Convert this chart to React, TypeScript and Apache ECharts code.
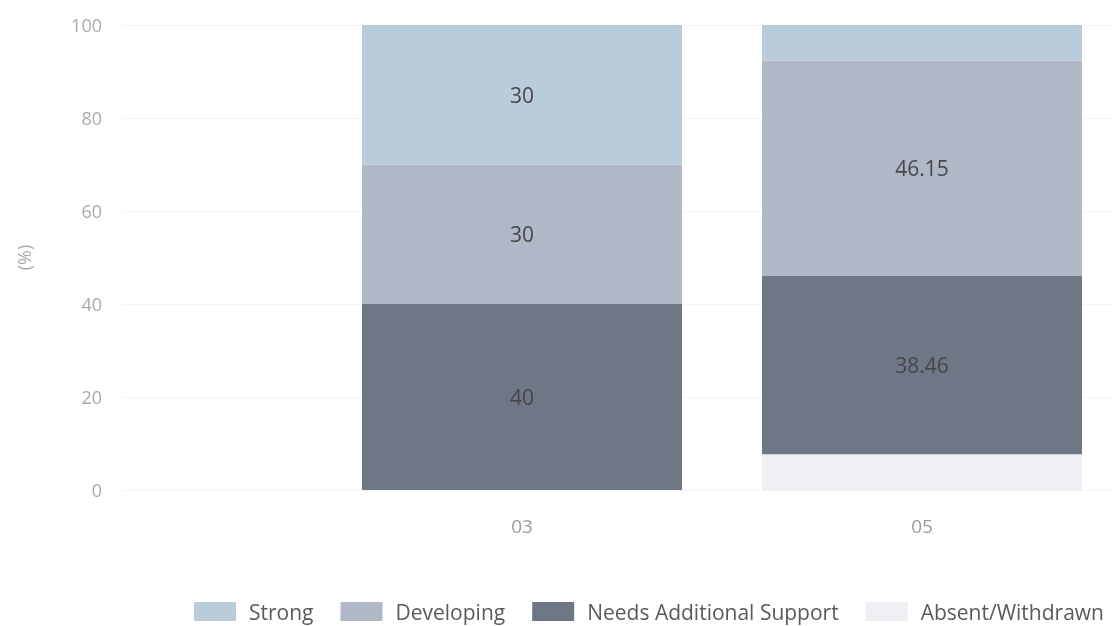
import React, { useEffect, useRef } from "react";
import * as echarts from "echarts";

const categories = ["03", "05"];
const seriesNames = ["Strong", "Developing", "Needs Additional Support", "Absent/Withdrawn"];
const strong = [30, 7.69];
const developing = [30, 46.15];
const needsSupport = [40, 38.46];
const absent = [0, 7.69];
const yTicks = [0, 20, 40, 60, 80, 100];

const colors: Record<string, string> = {
  Strong: "#b8ccda",
  Developing: "#b0b8c8",
  "Needs Additional Support": "#6f7686",
  "Absent/Withdrawn": "#eeeff3",
};

export default function App() {
  const ref = useRef<HTMLDivElement>(null);
  useEffect(() => {
    if (!ref.current) return;
    const chart = echarts.init(ref.current, null, { renderer: "svg" });
    const font = "'Open Sans', 'Noto Sans', sans-serif";
    const yMin = yTicks[0];
    const yMax = yTicks[yTicks.length - 1];
    const yInt = yTicks[1] - yTicks[0];
    const mk = (name: string, vals: number[]) => ({
      name,
      type: "bar",
      stack: "total",
      xAxisIndex: 1,
      yAxisIndex: 1,
      barWidth: "80%",
      itemStyle: { color: colors[name] },
      data: vals,
      label: {
        show: true,
        position: "inside",
        color: "#474747",
        fontSize: 21,
        fontFamily: font,
        formatter: (p: any) => (p.value > 10 ? String(p.value) : ""),
      },
    });
    chart.setOption({
      animation: false,
      grid: [
        { left: 122, top: 25, width: 1000, height: 465 },
        { left: 322, top: 25, width: 800, height: 465 },
      ],
      legend: {
        data: seriesNames,
        left: 194,
        top: 601,
        width: 930,
        padding: 0,
        itemWidth: 42,
        itemHeight: 19,
        itemGap: 27,
        icon: "rect",
        textStyle: { color: "#5a5a5a", fontSize: 21, fontFamily: font, padding: [0, 0, 0, 8] },
      },
      xAxis: [
        {
          gridIndex: 0,
          type: "category",
          data: [""],
          show: false,
        },
        {
          gridIndex: 1,
          type: "category",
          data: categories,
          axisLine: { show: false },
          axisTick: { show: false },
          splitLine: { show: false },
          axisLabel: { color: "#9a9a9a", fontSize: 19, fontFamily: font, margin: 26 },
        },
      ],
      yAxis: [
        {
          gridIndex: 0,
          type: "value",
          min: yMin,
          max: yMax,
          interval: yInt,
          name: "(%)",
          nameLocation: "middle",
          nameGap: 89,
          nameTextStyle: { color: "#aaaaaa", fontSize: 18, fontFamily: font },
          axisLine: { show: false },
          axisTick: { show: false },
          splitLine: { lineStyle: { color: "#f4f4f4" } },
          axisLabel: { color: "#aaaaaa", fontSize: 18, fontFamily: font, margin: 20 },
        },
        {
          gridIndex: 1,
          type: "value",
          min: yMin,
          max: yMax,
          interval: yInt,
          show: false,
          splitLine: { show: false },
        },
      ],
      series: [
        mk("Absent/Withdrawn", absent),
        mk("Needs Additional Support", needsSupport),
        mk("Developing", developing),
        mk("Strong", strong),
      ],
    });
    return () => chart.dispose();
  }, []);
  return (
    <div
      ref={ref}
      style={{ position: "fixed", left: 0, top: 0, width: 1136, height: 626 }}
    />
  );
}
